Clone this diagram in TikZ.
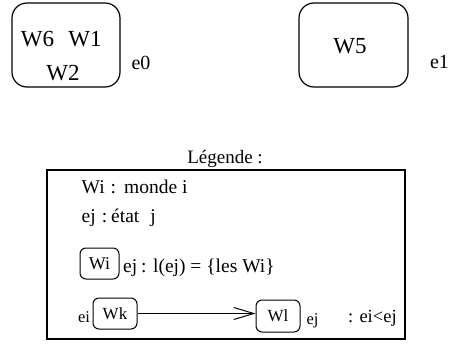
\documentclass[tikz,border=0pt]{standalone}
\usepackage{fontspec}
\setmainfont{Liberation Serif}
\usetikzlibrary{arrows.meta}
\begin{document}
\begin{tikzpicture}[x=1pt,y=-1pt,
  bigbox/.style={draw, line width=1.2pt, rounded corners=15pt, inner sep=0pt},
  smallbox/.style={draw, line width=1pt, rounded corners=6pt, inner sep=0pt},
  wtxt/.style={inner sep=0pt, anchor=base, font=\fontsize{23}{25}\selectfont},
  etxt/.style={inner sep=0pt, anchor=base, font=\fontsize{20}{22}\selectfont},
  txt/.style={inner sep=0pt, anchor=base west, font=\fontsize{19.5}{21}\selectfont},
  smalltxt/.style={inner sep=0pt, anchor=base, font=\fontsize{16.5}{18}\selectfont}]
\useasboundingbox (0,0) rectangle (449,343);
% top states
\node[bigbox, minimum width=108pt, minimum height=84pt] (e0box) at (66,45) {};
\node[wtxt] (w6) at (37.5,46) {W6};
\node[wtxt] (w1) at (85,46) {W1};
\node[wtxt] (w2) at (63,80) {W2};
\node[etxt] (e0) at (141,69) {e0};
\node[bigbox, minimum width=109pt, minimum height=84pt] (e1box) at (353.5,45) {};
\node[wtxt] (w5) at (350,53) {W5};
\node[etxt] (e1) at (439.5,68) {e1};
% legend
\node[etxt, font=\fontsize{19}{21}\selectfont] (leg) at (225,163) {Légende :};
\node[draw, line width=1.1pt, minimum width=358pt, minimum height=169pt, inner sep=0pt] (legbox) at (226,254.5) {};
\node[txt] (l1) at (81.5,193) {Wi\hspace{6pt}:\hspace{8pt}monde i};
\node[txt] (l2) at (81.5,222.5) {ej\hspace{6pt}:\hspace{4pt}état\hspace{11pt}j};
\node[smallbox, minimum width=39pt, minimum height=31pt, font=\fontsize{18}{20}\selectfont] (wi) at (99.5,263.5) {Wi};
\node[txt] (ej1) at (123,272) {ej};
\node[txt] (l3) at (141,272) {: l(ej) = \{les Wi\}};
\node[smalltxt] (ei) at (84,322) {ei};
\node[smallbox, minimum width=44pt, minimum height=31pt, font=\fontsize{17}{19}\selectfont] (wk) at (115,313.5) {Wk};
\node[smallbox, minimum width=44pt, minimum height=32pt, font=\fontsize{17}{19}\selectfont] (wl) at (278,316) {Wl};
\node[smalltxt] (ej2) at (312.5,324) {ej};
\node[txt, font=\fontsize{18.5}{20}\selectfont] (l4) at (348,322) {: ei<ej};
\draw[line width=1pt, -{Straight Barb[length=20pt,width=12pt,line width=1pt]}] (wk) -- (wk -| wl.west);
\end{tikzpicture}
\end{document}
